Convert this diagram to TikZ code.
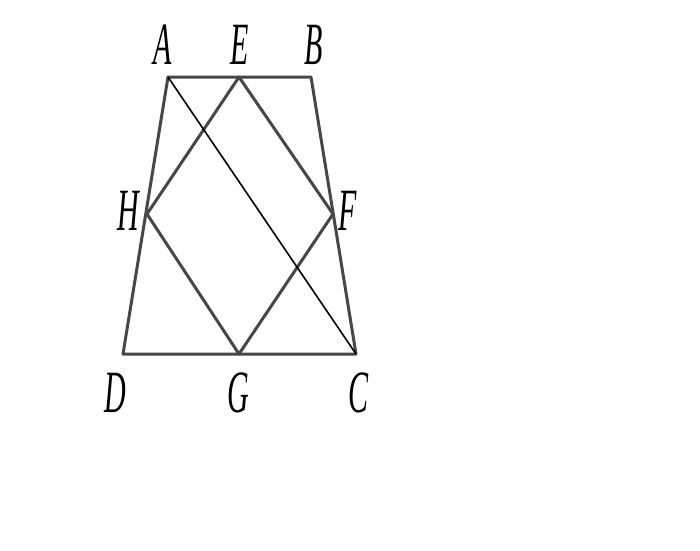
\documentclass[tikz,border=0pt]{standalone}
\usepackage{fontspec}
\setmainfont{Liberation Serif}
\begin{document}
\begin{tikzpicture}[x=1pt,y=-1pt,
  edge/.style={draw=black!72,line width=3pt,line join=round,line cap=round},
  diag/.style={draw=black,line width=1.6pt},
  lbl/.style={inner sep=0pt,font=\fontsize{60}{60}\selectfont}]
\useasboundingbox[fill=white] (0,0) rectangle (700,550);
\coordinate (A) at (168,77);
\coordinate (E) at (239,77);
\coordinate (B) at (311,77);
\coordinate (H) at (147,214);
\coordinate (F) at (333,214);
\coordinate (D) at (123,354);
\coordinate (G) at (239,354);
\coordinate (C) at (356,354);
\draw[edge] (A) -- (B) -- (C) -- (D) -- cycle;
\draw[edge] (E) -- (F) -- (G) -- (H) -- cycle;
\draw[diag] (A) -- (C);
\newcommand{\lab}[1]{\scalebox{0.5}[1]{\itshape #1}}
\node[lbl] (lA) at (163,45) {\lab{A}};
\node[lbl] (lE) at (240,45) {\lab{E}};
\node[lbl] (lB) at (314,45) {\lab{B}};
\node[lbl] (lH) at (128,211) {\lab{H}};
\node[lbl] (lF) at (348,211) {\lab{F}};
\node[lbl] (lD) at (115,393) {\lab{D}};
\node[lbl] (lG) at (238,393) {\lab{G}};
\node[lbl] (lC) at (358,393) {\lab{C}};
\end{tikzpicture}
\end{document}
